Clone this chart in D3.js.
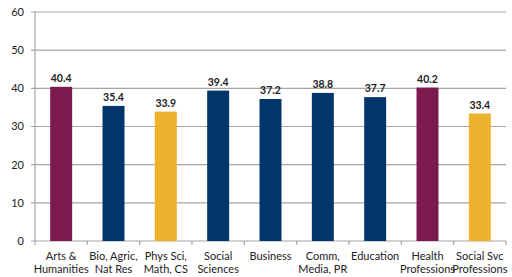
<!DOCTYPE html>
<html>
<head>
<meta charset="utf-8">
<script src="https://cdn.jsdelivr.net/npm/d3@7"></script>
<style>
body { margin: 0; background: #fff; }
text { font-family: Lato, "Open Sans", sans-serif; fill: #222; }
</style>
</head>
<body>
<div id="chart"></div>
<script>
var categories = [
    ['Arts &', 'Humanities'],
    ['Bio, Agric,', 'Nat Res'],
    ['Phys Sci,', 'Math, CS'],
    ['Social', 'Sciences'],
    ['Business'],
    ['Comm,', 'Media, PR'],
    ['Education'],
    ['Health', 'Professions'],
    ['Social Svc', 'Professions']
];
var values = [40.4, 35.4, 33.9, 39.4, 37.2, 38.8, 37.7, 40.2, 33.4];
var groups = ['arts', 'sci', 'gold', 'sci', 'sci', 'sci', 'sci', 'arts', 'gold'];
var yTicks = [0, 10, 20, 30, 40, 50, 60];

var palette = { arts: '#7a1a4e', sci: '#02366a', gold: '#eeb22e' };

var width = 512, height = 277;
var plotLeft = 35, plotRight = 506, plotTop = 12, plotBottom = 241;

var svg = d3.select('#chart')
    .append('svg')
    .attr('width', width)
    .attr('height', height);

var x = d3.scaleBand()
    .domain(d3.range(values.length))
    .range([plotLeft, plotRight])
    .paddingInner(0.58)
    .paddingOuter(0.29);

var y = d3.scaleLinear()
    .domain([0, 60])
    .range([plotBottom, plotTop]);

// gridlines
svg.append('g')
    .selectAll('line')
    .data(yTicks)
    .join('line')
    .attr('x1', plotLeft - 4)
    .attr('x2', plotRight)
    .attr('y1', d => y(d))
    .attr('y2', d => y(d))
    .attr('stroke', '#a6a6a6')
    .attr('stroke-width', 1.2);

// y axis line
svg.append('line')
    .attr('x1', plotLeft).attr('x2', plotLeft)
    .attr('y1', plotTop).attr('y2', plotBottom)
    .attr('stroke', '#a6a6a6')
    .attr('stroke-width', 1.2);

// category ticks
svg.append('g')
    .selectAll('line')
    .data(d3.range(values.length + 1))
    .join('line')
    .attr('x1', i => plotLeft + i * x.step())
    .attr('x2', i => plotLeft + i * x.step())
    .attr('y1', plotBottom)
    .attr('y2', plotBottom + 4)
    .attr('stroke', '#a6a6a6')
    .attr('stroke-width', 1.2);

// y tick labels
svg.append('g')
    .selectAll('text')
    .data(yTicks)
    .join('text')
    .attr('x', 24)
    .attr('y', d => y(d))
    .attr('dy', '0.35em')
    .attr('text-anchor', 'end')
    .attr('font-size', 11)
    .text(d => d);

// bars
svg.append('g')
    .selectAll('rect')
    .data(values)
    .join('rect')
    .attr('x', (d, i) => x(i))
    .attr('y', d => y(d))
    .attr('width', x.bandwidth())
    .attr('height', d => y(0) - y(d))
    .attr('fill', (d, i) => palette[groups[i]]);

// value labels
svg.append('g')
    .selectAll('text')
    .data(values)
    .join('text')
    .attr('x', (d, i) => x(i) + x.bandwidth() / 2)
    .attr('y', d => y(d) - 5)
    .attr('text-anchor', 'middle')
    .attr('font-size', 10.5)
    .attr('font-weight', 'bold')
    .text(d => d.toFixed(1));

// category labels
var catG = svg.append('g')
    .selectAll('text')
    .data(categories)
    .join('text')
    .attr('x', (d, i) => x(i) + x.bandwidth() / 2)
    .attr('y', 260)
    .attr('text-anchor', 'middle')
    .attr('font-size', 11);

catG.selectAll('tspan')
    .data(d => d)
    .join('tspan')
    .attr('x', function () { return this.parentNode.getAttribute('x'); })
    .attr('dy', (d, j) => j === 0 ? 0 : 12.5)
    .text(d => d);
</script>
</body>
</html>
